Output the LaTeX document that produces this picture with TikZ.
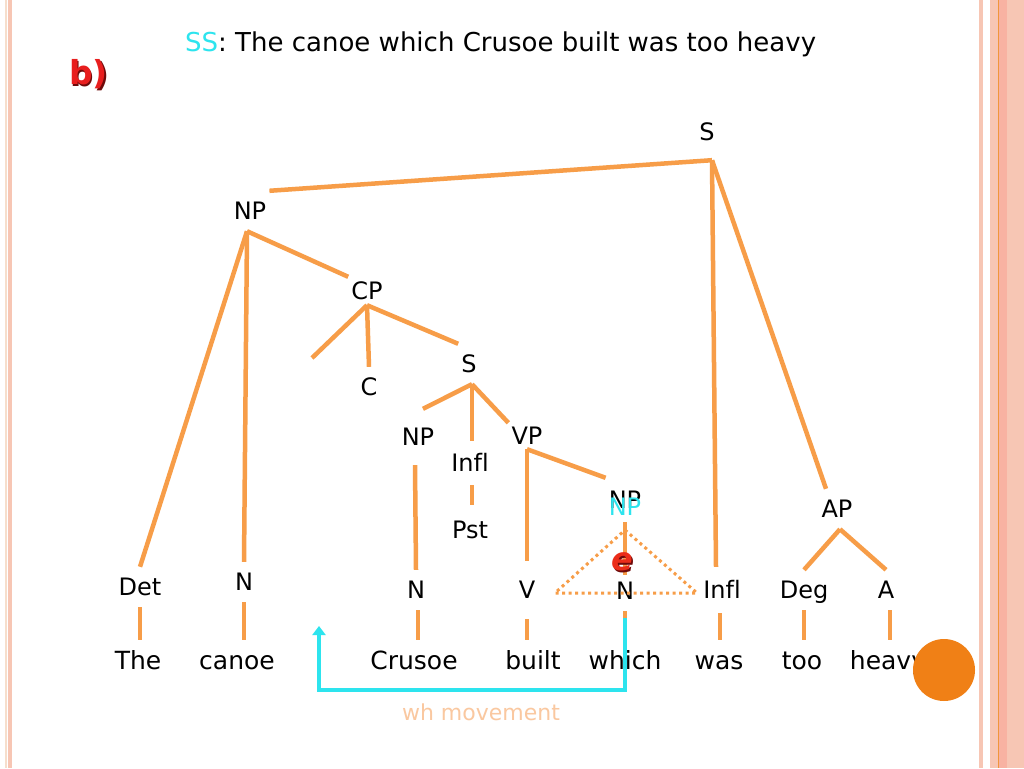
\documentclass[tikz,border=0pt]{standalone}
\usepackage{fontspec}
\setmainfont[Ligatures=NoCommon]{DejaVu Sans}
\usetikzlibrary{arrows.meta}
\definecolor{branch}{RGB}{247,157,72}
\definecolor{skycyan}{RGB}{45,228,238}
\definecolor{peach}{RGB}{250,200,160}
\definecolor{blob}{RGB}{240,128,22}
\definecolor{slidepink}{RGB}{247,198,180}
\definecolor{slidebeige}{RGB}{246,222,204}
\definecolor{slideline}{RGB}{240,150,60}
\definecolor{markred}{RGB}{232,30,30}
\definecolor{markshadow}{RGB}{110,10,10}
\tikzset{
  cat/.style={inner xsep=3pt, inner ysep=0pt, minimum height=40pt,
    text height=17pt, text depth=0pt, font=\fontsize{24}{26}\selectfont},
  word/.style={inner xsep=3pt, inner ysep=0pt, minimum height=40pt,
    text height=18pt, text depth=0pt, font=\fontsize{25}{28}\selectfont},
  branchline/.style={draw=branch, line width=4.5pt},
}
\begin{document}
\begin{tikzpicture}[x=1pt,y=-1pt]
\useasboundingbox (0,0) rectangle (1024,768);
\fill[white] (0,0) rectangle (1024,768);
\fill[slidebeige] (5,0) rectangle (6.5,768);
\fill[slidepink] (8,0) rectangle (12,768);
\fill[slidepink] (979,0) rectangle (983,768);
\fill[slidepink] (990,0) rectangle (1024,768);
\fill[slidepink!90!red] (999,0) rectangle (1007,768);
\draw[slideline, line width=1pt] (998.5,0) -- (998.5,768);

\node[anchor=west, inner sep=0pt, font=\fontsize{26}{30}\selectfont] (title) at (185,44)
  {\textcolor{skycyan}{SS}: The canoe which Crusoe built was too heavy};
\node[text=markshadow, font=\fontsize{33}{36}\selectfont\bfseries, inner sep=0pt] at (90,76) {b)};
\node[text=markred, font=\fontsize{33}{36}\selectfont\bfseries, inner sep=0pt] (part) at (88.5,74.5) {b)};

\node[cat, minimum height=56pt] (S0) at (707,132) {S};
\node[cat] (NP1) at (250,211) {NP};
\node[cat, minimum height=28pt] (CP) at (367,291) {CP};
\node[cat] (C) at (369,387) {C};
\node[cat, minimum height=40pt] (S1) at (469,364) {S};
\node[cat, minimum height=56pt] (NP2) at (418,437) {NP};
\node[cat, minimum height=44pt] (Infl1) at (470,463) {Infl};
\node[cat, minimum height=50pt] (Pst) at (470,530) {Pst};
\node[cat, minimum height=26pt] (VP) at (527,436) {VP};
\node[cat, minimum height=44pt] (NP3) at (625,500) {NP};
\node[cat] (AP) at (837,509) {AP};
\node[cat] (Det) at (140,587) {Det};
\node[cat] (N1) at (244,582) {N};
\node[cat] (N2) at (416,590) {N};
\node[cat, minimum height=58pt] (V) at (527,590) {V};
\node[cat] (N3) at (625,591) {N};
\node[cat, minimum height=46pt] (Infl2) at (722,590) {Infl};
\node[cat] (Deg) at (804,590) {Deg};
\node[cat] (A) at (886,590) {A};
\coordinate (gap) at (312,358);

\node[word] (The) at (138,660) {The};
\node[word] (canoe) at (237,660) {canoe};
\node[word] (Crusoe) at (414,660) {Crusoe};
\node[word] (built) at (533,660) {built};
\node[word] (which) at (625,660) {which};
\node[word] (was) at (719,660) {was};
\node[word] (too) at (802,660) {too};
\node[word] (heavy) at (888,660) {heavy};

\draw[branchline] ([xshift=5pt]S0.south) -- (NP1.north east);
\draw[branchline] ([xshift=5pt]S0.south) -- ([xshift=-6pt]Infl2.north);
\draw[branchline] ([xshift=5pt]S0.south) -- ([xshift=-11pt]AP.north);
\draw[branchline] ([xshift=-3pt]NP1.south) -- (Det.north);
\draw[branchline] ([xshift=-3pt]NP1.south) -- (N1.north);
\draw[branchline] ([xshift=-3pt]NP1.south) -- (CP.north west);
\draw[branchline] (CP.south) -- (gap);
\draw[branchline] (CP.south) -- (C.north);
\draw[branchline] (CP.south) -- (S1.north west);
\draw[branchline] ([xshift=3pt]S1.south) -- ([xshift=5pt]NP2.north);
\draw[branchline] ([xshift=3pt]S1.south) -- ([xshift=2pt]Infl1.north);
\draw[branchline] ([xshift=3pt]S1.south) -- (VP.north west);
\draw[branchline] ([xshift=-3pt]NP2.south) -- (N2.north);
\draw[branchline] ([xshift=2pt]Infl1.south) -- ([xshift=2pt]Pst.north);
\draw[branchline] (VP.south) -- (V.north);
\draw[branchline] (VP.south) -- (NP3.north west);
\draw[branchline] (NP3.south) -- ([yshift=-4pt]N3.north);
\draw[branchline] ([xshift=3pt]AP.south) -- (Deg.north);
\draw[branchline] ([xshift=3pt]AP.south) -- (A.north);
\draw[branchline] (Det.south) -- (Det.south |- The.north);
\draw[branchline] (N1.south) -- (N1.south |- canoe.north);
\draw[branchline] ([xshift=2pt]N2.south) -- ([xshift=2pt]N2.south |- Crusoe.north);
\draw[branchline] (V.south) -- (V.south |- built.north);
\draw[branchline] (N3.south) -- (N3.south |- which.north);
\draw[branchline] ([xshift=-2pt]Infl2.south) -- ([xshift=-2pt]Infl2.south |- was.north);
\draw[branchline] (Deg.south) -- (Deg.south |- too.north);
\draw[branchline] ([xshift=4pt]A.south) -- ([xshift=4pt]A.south |- heavy.north);

\draw[branch, line width=3pt, dash pattern=on 3pt off 3.5pt] (625,530) -- (697,593) -- (555,593) -- cycle;
\node[cat, text=skycyan] (NP3c) at (625,507) {NP};
\node[text=markshadow, font=\fontsize{32}{34}\selectfont\bfseries\itshape, inner sep=0pt] at (623.5,563.5) {e};
\node[text=markred!85!orange, font=\fontsize{32}{34}\selectfont\bfseries\itshape, inner sep=0pt] (trace) at (622,562) {e};

\coordinate (moveA) at (625,618);
\coordinate (moveB) at (319,626);
\draw[skycyan, line width=3.5pt, -{Triangle[length=9pt,width=13pt]}] (moveA) |- (319,690) -- (moveB);
\node[text=peach, font=\fontsize{22}{26}\selectfont] (move) at (481,712) {wh movement};

\fill[blob] (944,670) circle (31);
\end{tikzpicture}
\end{document}
